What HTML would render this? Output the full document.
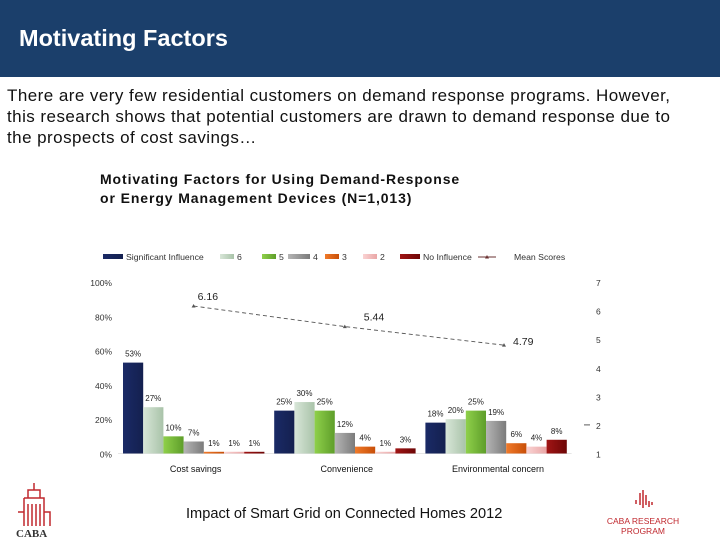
<!DOCTYPE html>
<html><head><meta charset="utf-8"><style>
body{margin:0;width:720px;height:540px;background:#fff;font-family:"Liberation Sans",sans-serif;overflow:hidden;position:relative}
.hdr{position:absolute;left:0;top:0;width:720px;height:77px;background:#1b3f6b}
.hdr h1{position:absolute;left:19px;top:25px;margin:0;color:#fff;font-size:23.5px;font-weight:bold}
.intro{position:absolute;left:7px;top:85px;white-space:nowrap;font-size:17px;letter-spacing:0.45px;line-height:21px;color:#111}
.ctitle{position:absolute;left:100px;top:170px;font-size:14px;letter-spacing:0.9px;font-weight:bold;line-height:19px;color:#111}
.foot{position:absolute;left:186px;top:506px;font-size:14.6px;color:#111}
</style></head><body>
<div class="hdr"><h1>Motivating Factors</h1></div>
<div class="intro">There are very few residential customers on demand response programs. However,<br>this research shows that potential customers are drawn to demand response due to<br>the prospects of cost savings…</div>
<div class="ctitle">Motivating Factors for Using Demand-Response<br>or Energy Management Devices (N=1,013)</div>
<svg id="chart" width="720" height="540" style="position:absolute;left:0;top:0"></svg>
<div class="foot">Impact of Smart Grid on Connected Homes 2012</div>
<svg width="720" height="540" style="position:absolute;left:0;top:0;pointer-events:none">
<g fill="none" stroke="#c0282e" stroke-width="1.5">
<path d="M34 483 L34 490 M28 490 h12 v8 h-12z M24 498 h20 v28 M24 498 v28 M28 504 v22 M32 504 v22 M36 504 v22 M40 504 v22 M18 512 h6 v14 M44 512 h6 v14"/>
<text x="16" y="537" fill="#333" stroke="none" font-family="Liberation Serif,serif" font-size="11" font-weight="bold">CABA</text>
</g>
<g>
<path d="M640 505 v-12 M643 508 v-18 M646 505 v-10 M649 507 v-6 M636 504 v-4 M652 505 v-3" stroke="#c0282e" stroke-width="1.5"/>
<text x="643" y="524" text-anchor="middle" fill="#c0282e" font-size="8.5">CABA RESEARCH</text>
<text x="643" y="534" text-anchor="middle" fill="#c0282e" font-size="8.5">PROGRAM</text>
</g>
</svg>
<script>
const categories=["Cost savings","Convenience","Environmental concern"];
const seriesNames=["Significant Influence","6","5","4","3","2","No Influence"];
const sigInf=[53,25,18];
const s6=[27,30,20];
const s5=[10,25,25];
const s4=[7,12,19];
const s3=[1,4,6];
const s2=[1,1,4];
const noInf=[1,3,8];
const meanScores=[6.16,5.44,4.79];
const leftTicks=["0%","20%","40%","60%","80%","100%"];
const rightTicks=["1","2","3","4","5","6","7"];
const series=[sigInf,s6,s5,s4,s3,s2,noInf];
const colors=[["#1a2a66","#14204f"],["#d8e6d8","#a9c3a9"],["#8fd04a","#5e9e2a"],["#b5b5b5","#7b7b7b"],["#f07a2a","#c84f08"],["#fad3d3","#e9a6a6"],["#a01515","#6e0606"]];
const svg=document.getElementById('chart');
const NS="http://www.w3.org/2000/svg";
const X0=118,CW=151.2,Y0=453.5,H=171.5,BW=20.2;
const y=v=>Y0-v/100*H;
const yR=v=>Y0-(v-1)/6*H;
const xc=i=>X0+CW*(i+0.5);
function mk(t,a,p){const e=document.createElementNS(NS,t);for(const k in a)e.setAttribute(k,a[k]);(p||svg).appendChild(e);return e;}
const defs=mk('defs',{});
colors.forEach((c,i)=>{const g=mk('linearGradient',{id:'g'+i,x1:0,x2:1,y1:0,y2:0},defs);mk('stop',{offset:0,'stop-color':c[0]},g);mk('stop',{offset:1,'stop-color':c[1]},g);});
leftTicks.forEach((t,i)=>{const e=mk('text',{x:112,y:y(i*20)+4,'text-anchor':'end','font-size':8.5,fill:'#333'});e.textContent=t;

});
rightTicks.forEach((t,i)=>{const e=mk('text',{x:596,y:yR(i+1)+4,'font-size':8.5,fill:'#333'});e.textContent=t;

});
mk('line',{x1:584,x2:590,y1:yR(2),y2:yR(2),stroke:'#333','stroke-width':0.8});
mk('line',{x1:X0,x2:X0+3*CW,y1:Y0,y2:Y0,stroke:'#ccc','stroke-width':0.5});
categories.forEach((c,ci)=>{
 const gx=X0+CW*ci+5;
 series.forEach((s,si)=>{
  const v=s[ci];const bx=gx+si*BW;
  const r=mk('rect',{x:bx,y:y(v),width:BW,height:Y0-y(v),fill:'url(#g'+si+')'});
  
  
  const t=mk('text',{x:bx+BW/2,y:y(v)-6,'text-anchor':'middle','font-size':8,fill:'#222'});t.textContent=v+'%';
  
  
 });
 const l=mk('text',{x:xc(ci)+2,y:472,'text-anchor':'middle','font-size':9,fill:'#111'});l.textContent=c;
 
 
});
const pts=meanScores.map((m,i)=>(xc(i)+(i==2?8:0))+','+yR(m)).join(' ');
const pl=mk('polyline',{points:pts,fill:'none',stroke:'#555','stroke-width':0.9,'stroke-dasharray':'4,3'});


meanScores.forEach((m,i)=>{const px=xc(i)+(i==2?8:0);
 mk('path',{d:`M${px-2} ${yR(m)+1.5} L${px+2} ${yR(m)+1.5} L${px} ${yR(m)-2}z`,fill:'#555'});
 const t=mk('text',{x:px+4+(i==1?15:0)+(i==2?5:0),y:yR(m)-(i==1?-4:-2)-(i==0?8:0)-(i==1?10:0)+(i==2?-2:0),'font-size':10.5,fill:'#222'});t.textContent=m.toFixed(2);
 
 
});
const lx=[103,220,262,288,325,363,400];
seriesNames.forEach((n,i)=>{
 const g=mk('g',{});
 
 
 const w=i==0||i==6?20:i==3?22:14;
 mk('rect',{x:lx[i],y:254,width:w,height:5,fill:'url(#g'+i+')'},g);
 const t=mk('text',{x:lx[i]+w+3,y:260,'font-size':8.7,fill:'#333'},g);t.textContent=n;
});
const lg=mk('g',{});


mk('line',{x1:478,x2:496,y1:257,y2:257,stroke:'#6a3030','stroke-width':1},lg);
mk('path',{d:'M485 258.5 L489 258.5 L487 255z',fill:'#6a3030'},lg);
const mt=mk('text',{x:514,y:260,'font-size':8.7,fill:'#333'},lg);mt.textContent="Mean Scores";
</script>
</body></html>
